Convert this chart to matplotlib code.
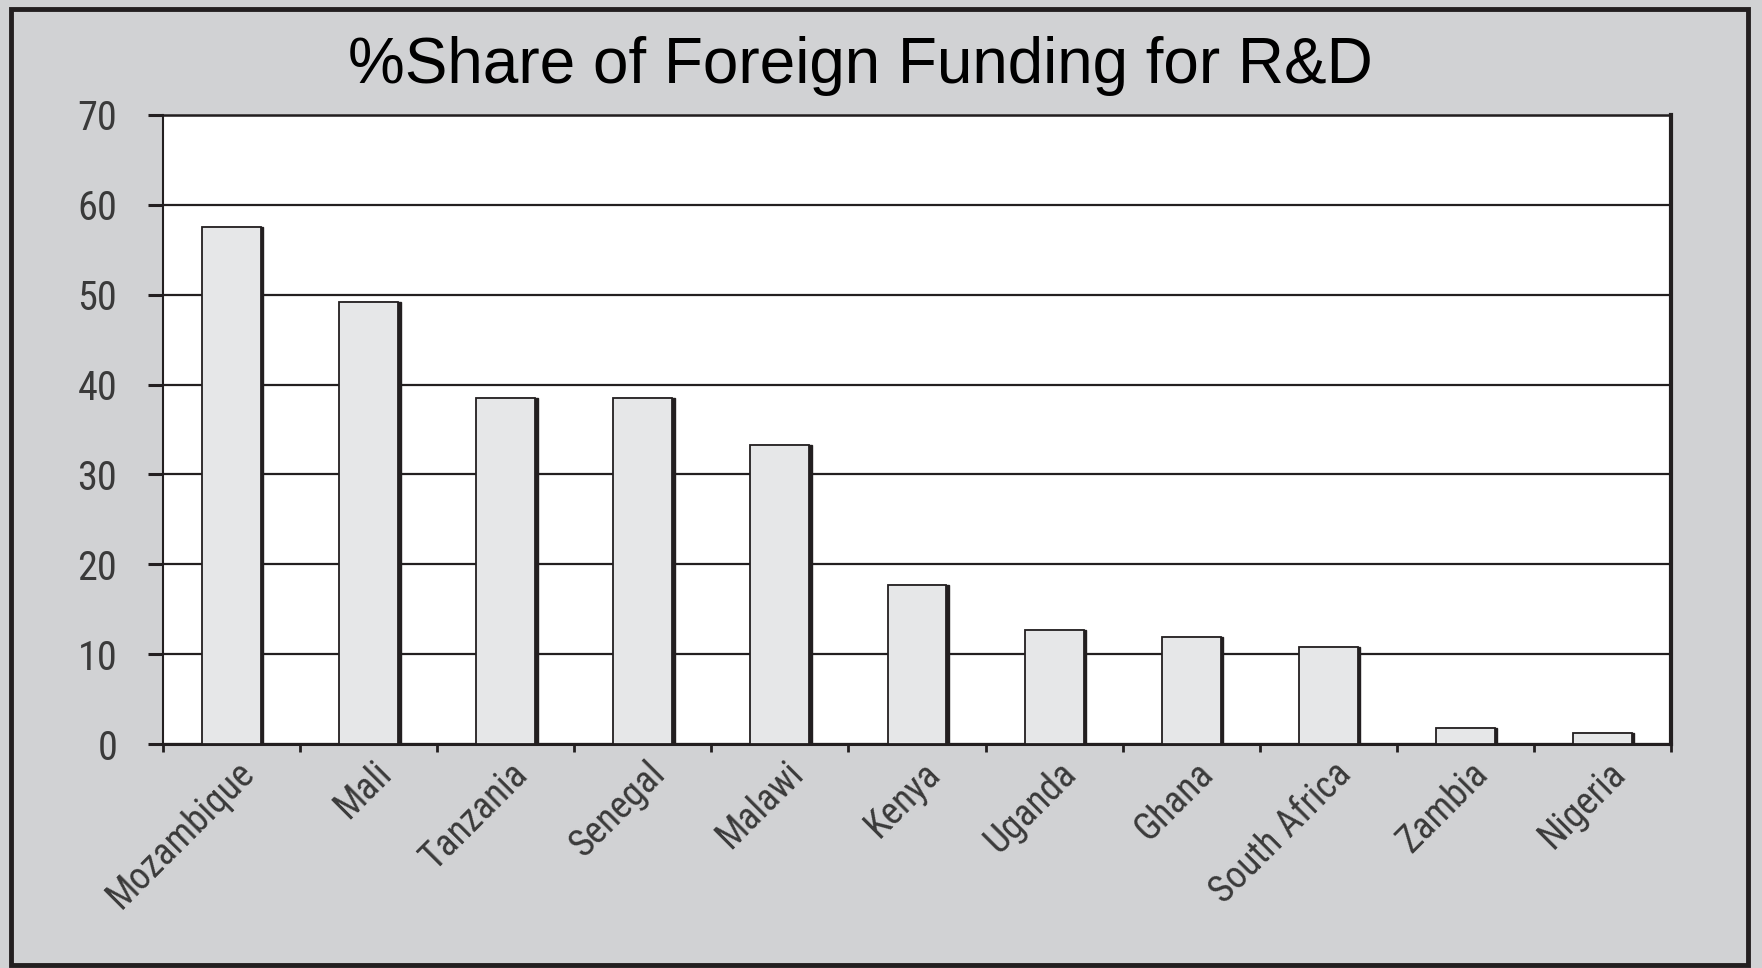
import matplotlib
matplotlib.use("Agg")
import matplotlib.pyplot as plt
import matplotlib.transforms as mtransforms
from matplotlib.patches import Rectangle
import numpy as np
import logging
logging.getLogger("matplotlib.font_manager").setLevel(logging.ERROR)

categories = ["Mozambique", "Mali", "Tanzania", "Senegal", "Malawi", "Kenya",
              "Uganda", "Ghana", "South Africa", "Zambia", "Nigeria"]
values = [57.5, 49.2, 38.5, 38.5, 33.3, 17.7, 12.7, 11.9, 10.8, 1.8, 1.2]
yticks = [0, 10, 20, 30, 40, 50, 60, 70]
title = "%Share of Foreign Funding for R&D"

from matplotlib import font_manager as fm
_avail = {f.name for f in fm.fontManager.ttflist}
_cands = ["Arial Narrow", "Liberation Sans Narrow", "Roboto Condensed",
          "Archivo Narrow", "PT Sans Narrow", "IBM Plex Sans Condensed",
          "Open Sans Condensed"]
narrow = [c for c in _cands if c in _avail][:1] + ["DejaVu Sans"]

W, H, DPI = 1762, 968, 100
fig = plt.figure(figsize=(W / DPI, H / DPI), dpi=DPI)
fig.patch.set_facecolor("#d1d2d4")

# outer border
fig.add_artist(Rectangle((11 / W, 3 / H), (1748 - 11) / W, (959 - 3) / H,
                         transform=fig.transFigure, fill=False,
                         edgecolor="#231f20", linewidth=3.5))

ax = fig.add_axes([163 / W, 1 - 744 / H, (1671 - 163) / W, (744 - 115) / H])
ax.set_facecolor("white")

x = np.arange(len(categories))
bw = 0.43
# shadow on the right side of each bar
ax.bar(x + 0.018, values, width=bw, color="#231f20", edgecolor="#231f20",
       linewidth=1.0, zorder=2)
ax.bar(x, values, width=bw, color="#e6e7e8", edgecolor="#231f20",
       linewidth=1.3, zorder=3)

ax.set_xlim(-0.5, len(categories) - 0.5)
ax.set_ylim(0, 70)
ax.set_yticks(yticks)
ax.set_yticklabels([str(v) for v in yticks], family=narrow, fontsize=29,
                   color="#3a3a3a")
ax.yaxis.grid(True, color="#231f20", linewidth=1.6, zorder=1)
ax.set_axisbelow(True)
ax.tick_params(axis="y", length=11, width=2.2, pad=22, color="#231f20")

ax.set_xticks(x)
ax.set_xticks(np.arange(-0.5, len(categories), 1.0), minor=True)
ax.tick_params(axis="x", which="major", length=0, pad=0)
ax.tick_params(axis="x", which="minor", length=6, width=2, color="#231f20")
labels = ax.set_xticklabels(categories, family=narrow, fontsize=27,
                            color="#3a3a3a", rotation=45, ha="right",
                            va="top", rotation_mode="anchor")
offset = mtransforms.ScaledTranslation(0.04, -0.11, fig.dpi_scale_trans)
for lab in labels:
    lab.set_transform(lab.get_transform() + offset)

for side, lw in (("left", 1.5), ("bottom", 2.2), ("top", 1.8), ("right", 3.0)):
    ax.spines[side].set_color("#231f20")
    ax.spines[side].set_linewidth(lw)

fig.text(860 / W, 1 - 66 / H, title, ha="center", va="center",
         fontsize=46, family=["Liberation Sans", "DejaVu Sans"], color="black")

fig.savefig("out.png", dpi=DPI, facecolor=fig.get_facecolor())
